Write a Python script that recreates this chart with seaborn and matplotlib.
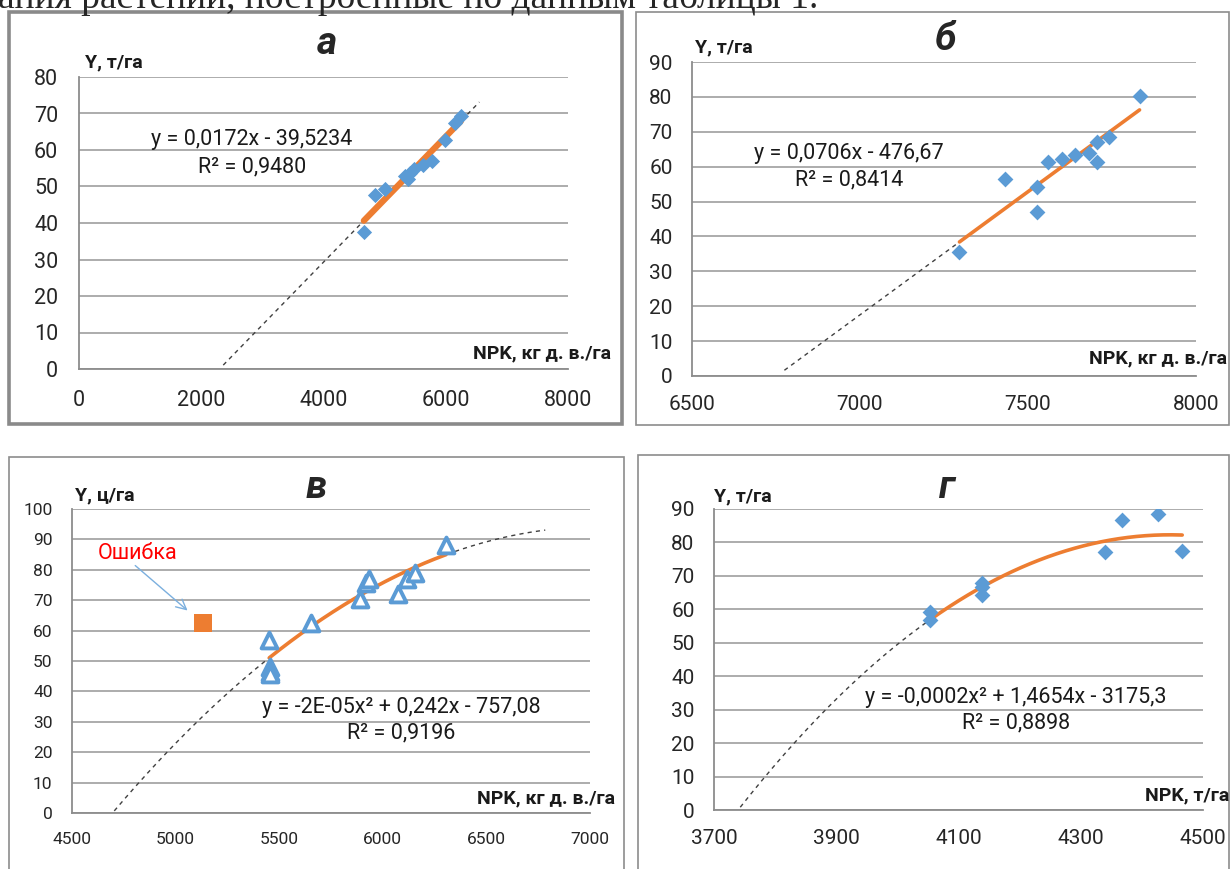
import numpy as np
import pandas as pd
import matplotlib
matplotlib.use('Agg')
import matplotlib.pyplot as plt
import seaborn as sns
from matplotlib.patches import Rectangle

# ---- values ----
# а
npk_a = [4660, 4840, 5010, 5340, 5390, 5420, 5480, 5620, 5770, 5990, 6150, 6250]
yield_a = [37.5, 47.8, 49.3, 53.0, 52.0, 53.8, 54.8, 56.0, 57.0, 62.8, 67.5, 69.4]
coef_a = [0.0172, -39.5234]
forecast_a = (2360, 6550)

# б
npk_b = [7296, 7432, 7526, 7526, 7561, 7602, 7641, 7681, 7705, 7705, 7740, 7832]
yield_b = [35.6, 56.5, 54.3, 47.0, 61.2, 62.3, 63.4, 63.9, 67.0, 61.2, 68.5, 80.2]
coef_b = [0.0706, -476.67]
forecast_b = (6775, 7832)

# в  (x^2 coefficient is shown rounded as -2E-05)
npk_v = [5452, 5455, 5456, 5458, 5655, 5890, 5918, 5935, 6072, 6118, 6155, 6305]
yield_v = [57.0, 48.0, 46.5, 45.8, 62.5, 70.5, 75.5, 77.0, 72.0, 77.0, 79.0, 88.0]
coef_v = [-1.72e-05, 0.242, -757.08]
forecast_v = (4704, 6784)
err_npk = [5130]
err_yield = [62.5]

# г
npk_g = [4053, 4054, 4139, 4139, 4139, 4340, 4368, 4427, 4466]
yield_g = [59.3, 56.8, 68.0, 66.8, 64.3, 77.1, 86.7, 88.5, 77.5]
coef_g = [-1.648e-04, 1.4654, -3175.3]
forecast_g = (3743, 4466)

BLUE = '#5B9BD5'
ORANGE = '#ED7D31'
GRID = '#A6A6A6'
AXIS = '#8C8C8C'
TXT = '#262626'

sns.set_style('white')
plt.rcParams['font.family'] = ['Roboto', 'DejaVu Sans']

W, H = 1231, 869
fig = plt.figure(figsize=(W / 100, H / 100), dpi=100)


def box(l, t, r, b):
    return [l / W, 1 - b / H, (r - l) / W, (b - t) / H]


def fx(px):
    return px / W


def fy(py):
    return 1 - py / H


def trend(coef, lo, hi):
    xs = np.linspace(lo, hi, 200)
    return pd.DataFrame({'x': xs, 'y': np.polyval(coef, xs)})


def panel(rect, xlim, xticks, ylim, yticks, fs, pad):
    ax = fig.add_axes(rect)
    ax.set_facecolor('none')
    ax.set_xlim(xlim)
    ax.set_ylim(ylim)
    ax.set_xticks(xticks)
    ax.set_yticks(yticks)
    ax.grid(axis='y', color=GRID, lw=1.3)
    ax.set_axisbelow(True)
    for s in ['top', 'right']:
        ax.spines[s].set_visible(False)
    for s in ['left', 'bottom']:
        ax.spines[s].set_color(AXIS)
        ax.spines[s].set_linewidth(1.3)
    ax.tick_params(direction='out', length=6, width=1.3, color=AXIS,
                   labelsize=fs, labelcolor=TXT, pad=pad)
    return ax


def draw_fit(ax, coef, xs, fc, lw):
    d = trend(coef, fc[0], fc[1])
    sns.lineplot(data=d, x='x', y='y', ax=ax, color='#404040', lw=1.0,
                 linestyle=(0, (3, 3)), estimator=None, sort=False)
    s = trend(coef, min(xs), max(xs))
    sns.lineplot(data=s, x='x', y='y', ax=ax, color=ORANGE, lw=lw,
                 estimator=None, sort=False)
    ax.set_xlabel('')
    ax.set_ylabel('')


def labels(title, tx, ty, ylab, yx, yy, xlab, xx, xy):
    fig.text(fx(tx), fy(ty), title, fontsize=28, fontweight='bold',
             fontstyle='italic', ha='center', va='center')
    fig.text(fx(yx), fy(yy), ylab, fontsize=14, fontweight='bold',
             ha='left', va='center', color='#1a1a1a')
    fig.text(fx(xx), fy(xy), xlab, fontsize=14, fontweight='bold',
             ha='right', va='center', color='#1a1a1a')


def equation(lines, cx, cys):
    for t, cy in zip(lines, cys):
        fig.text(fx(cx), fy(cy), t, fontsize=15.5, ha='center', va='center',
                 color='#1a1a1a')


# header line of the page (cut off at the top, as in the source)
fig.text(-0.002, fy(8), 'ания растений, построенные по данным таблицы 1.',
         family=['Liberation Serif', 'DejaVu Serif'], fontsize=27,
         va='baseline', ha='left')

# panel frames
fig.add_artist(Rectangle((fx(9), fy(424)), (622 - 9) / W, (424 - 12) / H,
                         transform=fig.transFigure, fill=False, ec='#8a8a8a', lw=2.6))
fig.add_artist(Rectangle((fx(636), fy(425)), (1229 - 636) / W, (425 - 12) / H,
                         transform=fig.transFigure, fill=False, ec='#8c8c8c', lw=1.2))
fig.add_artist(Rectangle((fx(9), fy(900)), (624 - 9) / W, (900 - 457) / H,
                         transform=fig.transFigure, fill=False, ec='#8c8c8c', lw=1.2))
fig.add_artist(Rectangle((fx(638), fy(900)), (1229 - 638) / W, (900 - 455) / H,
                         transform=fig.transFigure, fill=False, ec='#8c8c8c', lw=1.2))

# а
ax = panel(box(79, 77, 568, 369), (0, 8000), range(0, 8001, 2000),
           (0, 80), range(0, 81, 10), 15.5, 9)
sns.scatterplot(x=npk_a, y=yield_a, ax=ax, marker='D', s=60, color=BLUE,
                edgecolor=BLUE, linewidth=0, zorder=3)
draw_fit(ax, coef_a, npk_a, forecast_a, 4.5)
labels('а', 327, 44, 'Y, т/га', 85, 62, 'NPK, кг д. в./га', 611, 353)
equation(['y = 0,0172x - 39,5234', 'R² = 0,9480'], 252, [139, 167])

# б
ax = panel(box(692, 62, 1196, 376), (6500, 8000), range(6500, 8001, 500),
           (0, 90), range(0, 91, 10), 15, 8)
sns.scatterplot(x=npk_b, y=yield_b, ax=ax, marker='D', s=65, color=BLUE,
                edgecolor=BLUE, linewidth=0, zorder=3)
draw_fit(ax, coef_b, npk_b, forecast_b, 2.6)
labels('б', 946, 39, 'Y, т/га', 695, 47, 'NPK, кг д. в./га', 1227, 358)
equation(['y = 0,0706x - 476,67', 'R² = 0,8414'], 849, [154, 180])

# в
ax = panel(box(72, 509, 590, 813), (4500, 7000), range(4500, 7001, 500),
           (0, 100), range(0, 101, 10), 12.5, 8)
sns.scatterplot(x=npk_v, y=yield_v, ax=ax, marker='^', s=130,
                facecolor='white', edgecolor=BLUE, linewidth=2.8, zorder=3)
sns.scatterplot(x=err_npk, y=err_yield, ax=ax, marker='s', s=150,
                color=ORANGE, linewidth=0, zorder=3)
draw_fit(ax, coef_v, npk_v, forecast_v, 2.6)
ax.text(4818, 85.5, 'Ошибка', color='red', fontsize=15.5, ha='center', va='center')
ax.annotate('', xy=(5068, 66), xytext=(4795, 82),
            arrowprops=dict(arrowstyle='->', color='#7BAFDE', lw=1.0,
                            mutation_scale=18))
labels('в', 316, 488, 'Y, ц/га', 75, 495, 'NPK, кг д. в./га', 615, 798)
equation(['y = -2E-05x² + 0,242x - 757,08', 'R² = 0,9196'], 401, [707, 733])

# г
ax = panel(box(714, 509, 1203, 810), (3700, 4500), range(3700, 4501, 200),
           (0, 90), range(0, 91, 10), 15, 8)
sns.scatterplot(x=npk_g, y=yield_g, ax=ax, marker='D', s=65, color=BLUE,
                edgecolor=BLUE, linewidth=0, zorder=3)
draw_fit(ax, coef_g, npk_g, forecast_g, 2.6)
labels('г', 947, 487, 'Y, т/га', 714, 496, 'NPK, т/га', 1229, 795)
equation(['y = -0,0002x² + 1,4654x - 3175,3', 'R² = 0,8898'], 1016, [698, 723])

fig.savefig('out.png', dpi=100)
